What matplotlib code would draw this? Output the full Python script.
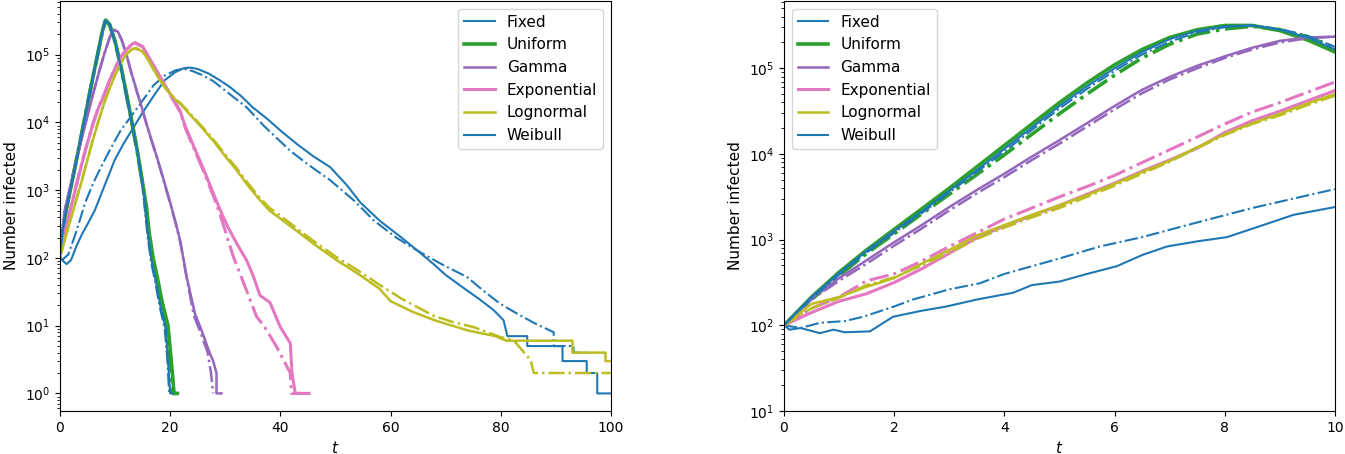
import matplotlib
matplotlib.use('Agg')
import matplotlib.pyplot as plt

# ---- left panel: whole epidemic, t in [0, 100] ----
fixed_t = [0, 0.5, 1.2, 2, 3, 4, 5, 6.3, 8, 9.9, 11.5, 13, 15, 17.2, 19, 20.9, 22.4, 23.6, 25, 27,
           29, 30.9, 33, 35, 37.5, 40, 43, 46, 49, 52, 54.5, 58, 61.8, 65, 67.8, 70, 73.9, 76, 78.7, 80.5,
           81.2, 84.8, 84.8, 91.2, 91.2, 95.6, 95.6, 97.5, 97.5, 100]
fixed_y = [100, 91, 81, 93, 150, 225, 315, 500, 1120, 2750, 4800, 7600, 14000, 26000, 42000, 55000,
           63000, 64500, 61500, 52500, 42000, 33000, 24000, 16600, 11500, 7600, 4800, 3150, 2200, 1200,
           660, 355, 205, 126, 81, 56, 33, 25, 17, 12, 7, 7, 5, 5, 3, 3, 2, 2, 1, 1]
fixed_dd_t = [0, 0.5, 1.5, 3, 4.5, 6, 7.5, 9.3, 11, 13, 15.4, 17, 19, 21, 22.5, 24, 25.8, 27.8, 30, 33.9,
              37, 41.8, 45, 49, 53.3, 57, 61, 64.8, 69, 73.9, 77, 79.9, 83, 86, 89.6, 89.6, 93.2, 93.2, 95.5]
fixed_dd_y = [100, 95, 112, 250, 630, 1260, 2240, 4270, 7600, 12600, 23400, 35500, 49000, 59000, 61700,
              57500, 50100, 40700, 29500, 16600, 8900, 3800, 2400, 1410, 710, 355, 200, 129, 83, 52,
              32, 21, 15, 11, 8, 5, 5, 4, 4]

unif_t = [0, 0.5, 1.1, 2, 3, 4, 5, 6, 7, 7.7, 8.3, 9, 10, 11, 12, 13, 14, 15, 15.7, 16.2, 16.9, 17.7,
          18.5, 19.6, 20.2, 20.7, 21.3]
unif_y = [112, 250, 500, 1120, 2820, 7080, 18600, 47900, 117500, 224000, 324000, 282000, 158000, 70800,
          28200, 10700, 3980, 1260, 560, 230, 100, 50, 23, 10, 3, 1, 1]
unif_dd_t = [0, 0.5, 1.1, 2, 3, 4, 5, 6, 7, 7.7, 8.2, 9, 10, 11, 12, 13, 14, 15, 15.6, 16.1, 16.8, 17.6,
             18.4, 19.4, 20.0, 20.5, 21.0]
unif_dd_y = [115, 260, 510, 1150, 2900, 7300, 19000, 48000, 116000, 220000, 318000, 276000, 152000,
             68000, 27000, 10200, 3800, 1200, 530, 215, 95, 46, 21, 9, 3, 1, 1]

gamma_t = [0, 0.85, 2, 3, 4, 5, 6, 7, 8, 9, 9.8, 10.5, 11.2, 12, 13, 14, 15, 16, 17, 18, 19, 20, 21,
           21.8, 23, 24.5, 25.7, 27.2, 27.8, 28.4, 28.4, 29.3]
gamma_y = [112, 500, 1260, 2820, 6030, 12600, 26300, 52500, 100000, 178000, 234000, 219000, 166000,
           105000, 52500, 28200, 15100, 7940, 4370, 2400, 1260, 660, 330, 182, 52, 15, 8.5, 3.9, 3, 2, 1, 1]
gamma_dd_t = [0, 0.85, 2, 3, 4, 5, 6, 7, 8, 9, 9.7, 10.5, 11.2, 12, 13, 14, 15, 16, 17, 18, 19, 20, 21,
              21.8, 23, 24.3, 25.5, 26.8, 27.4, 27.8]
gamma_dd_y = [115, 510, 1280, 2850, 6100, 12800, 26500, 53000, 101000, 178000, 232000, 216000, 163000,
              103000, 51500, 27500, 14700, 7700, 4250, 2330, 1220, 640, 320, 175, 50, 14, 8, 4, 2, 1]

expo_t = [0, 1, 2, 3, 4, 5, 6, 7, 8, 9, 10, 11, 12, 13, 13.6, 15, 16, 18, 20, 21.8, 22.7, 24, 26, 28,
          29, 30.5, 32.1, 33.9, 35, 36.3, 38.1, 40, 41.8, 42.1, 42.7, 43.5]
expo_y = [112, 251, 562, 1200, 2510, 5010, 9550, 16600, 25100, 41700, 63100, 91200, 117500, 141000,
          151000, 132000, 95500, 50100, 26300, 14800, 8900, 5010, 2090, 832, 525, 282, 162, 91, 56, 28,
          22, 9.5, 5.5, 2, 1, 1]
expo_dd_t = [0, 1, 2, 3, 4, 5, 6, 7, 8, 9, 10, 11, 12, 13, 13.5, 15, 16, 18, 20, 21.8, 22.7, 24, 26, 28,
             29, 31.5, 33, 35.7, 37, 39.3, 41.8, 42, 46]
expo_dd_y = [115, 260, 580, 1240, 2600, 5150, 9800, 17000, 25700, 42500, 64000, 92000, 118000, 142000,
             150000, 130000, 94000, 49000, 25500, 14300, 8500, 4700, 1950, 760, 450, 102, 50, 13.5, 10,
             4.9, 2, 1, 1]

logn_t = [0, 1, 2.4, 4, 5, 6, 7, 8, 9, 10, 11, 12, 13, 13.8, 15, 16, 17, 18, 19, 20, 21, 22, 24, 26,
          28, 30, 32, 34, 36, 38, 40, 43.6, 46, 50, 54, 58, 60, 64, 68, 74, 79, 81, 93, 93, 99, 99, 100]
logn_y = [100, 200, 500, 1410, 2820, 5620, 10500, 19100, 31600, 50100, 74100, 100000, 120000, 126000,
          110000, 85100, 60300, 43700, 33100, 26300, 21400, 18200, 12000, 7940, 5130, 3160, 2000, 1200,
          759, 501, 380, 229, 162, 95, 59, 35, 23, 16, 12, 8.5, 7, 6, 6, 4, 4, 3, 3]
logn_dd_t = [0, 1, 2.4, 4, 5, 6, 7, 8, 9, 10, 11, 12, 13, 13.6, 15, 16, 17, 18, 19, 20, 21, 22, 24, 26,
             28, 30, 32, 34, 36, 38, 40, 43.6, 46, 50, 54, 58, 62, 67.8, 71, 75.1, 79.9, 82.4, 85.4, 86, 100]
logn_dd_y = [105, 210, 520, 1450, 2900, 5750, 10700, 19400, 32000, 50500, 74500, 100000, 119000, 124000,
             109000, 84000, 60000, 44000, 33500, 26800, 22000, 18800, 12500, 8300, 5400, 3350, 2150,
             1300, 820, 550, 420, 250, 178, 105, 66, 40, 25, 14, 11.5, 9.5, 6.8, 6, 3.1, 2, 2]

weib_t = [0, 0.5, 1.1, 2, 3, 4, 5, 6, 7, 7.7, 8.2, 9, 10, 11, 12, 13, 14, 15, 15.5, 16.0, 16.6, 17.4,
          18.2, 19.2, 19.6, 20.0, 20.4]
weib_y = [112, 248, 495, 1110, 2790, 7000, 18400, 47500, 117000, 222000, 322000, 278000, 154000, 68500,
          27300, 10300, 3800, 1180, 520, 210, 92, 45, 20, 9, 3, 1, 1]
weib_dd_t = [0, 0.5, 1.1, 2, 3, 4, 5, 6, 7, 7.7, 8.2, 9, 10, 11, 12, 13, 14, 15, 15.4, 15.9, 16.5, 17.3,
             18.1, 19.0, 19.5, 19.8, 20.2]
weib_dd_y = [118, 265, 520, 1170, 2950, 7400, 19200, 48500, 117000, 220000, 316000, 272000, 150000,
             66500, 26500, 10000, 3700, 1150, 500, 205, 90, 43, 19, 9, 3, 1, 1]

# ---- right panel: early growth, t in [0, 10] ----
tr = [0, 0.5, 1, 1.5, 2, 2.5, 3, 3.5, 4, 4.5, 5, 5.5, 6, 6.5, 7, 7.5, 8, 8.5, 9, 9.5, 10]

r_fixed_t = [0, 0.1, 0.3, 0.65, 0.9, 1.1, 1.56, 1.98, 2.5, 2.95, 3.5, 4.16, 4.5, 5.0, 5.5, 6.04, 6.5,
             6.95, 7.5, 8.04, 8.6, 9.25, 10]
r_fixed_y = [100, 89, 93, 81, 89, 83, 85, 126, 148, 166, 200, 240, 295, 324, 398, 490, 661, 832, 955,
             1070, 1410, 1950, 2400]
r_fixed_dd_t = [0, 0.3, 0.65, 1.1, 1.44, 2.0, 2.34, 3.0, 3.55, 4.0, 5.0, 5.73, 6.5, 7.55, 8.5, 10]
r_fixed_dd_y = [100, 93, 107, 112, 126, 166, 200, 263, 309, 398, 603, 832, 1070, 1620, 2340, 3890]

r_unif_y = [100, 214, 417, 759, 1320, 2290, 3980, 7080, 12600, 22400, 39800, 67600, 110000, 166000,
            229000, 282000, 316000, 316000, 275000, 214000, 155000]
r_unif_dd_y = [100, 200, 380, 692, 1170, 2000, 3390, 5750, 9770, 17000, 29500, 50100, 83200, 132000,
               191000, 251000, 288000, 309000, 282000, 234000, 174000]
r_gamma_y = [100, 209, 355, 575, 933, 1480, 2400, 3800, 5890, 9330, 14500, 22900, 36300, 56200, 79400,
             107000, 138000, 174000, 209000, 229000, 234000]
r_gamma_dd_y = [100, 200, 331, 525, 851, 1350, 2190, 3470, 5370, 8510, 13200, 20900, 33100, 51300,
                74100, 100000, 132000, 166000, 200000, 224000, 234000]
r_expo_y = [100, 141, 191, 234, 316, 457, 692, 1050, 1450, 1910, 2510, 3390, 4570, 6310, 8510, 11700,
            17800, 24500, 31600, 41700, 55000]
r_expo_dd_y = [100, 158, 214, 331, 398, 562, 832, 1200, 1740, 2340, 3160, 4170, 5620, 7940, 11200,
               15800, 22400, 30900, 39800, 52500, 69200]
r_logn_y = [100, 178, 214, 282, 355, 525, 759, 1120, 1480, 1950, 2510, 3310, 4470, 6170, 8320, 12000,
            17000, 22900, 29500, 38900, 50100]
r_logn_dd_y = [100, 158, 209, 295, 363, 501, 708, 1020, 1380, 1820, 2340, 3160, 4270, 5890, 8130,
               11700, 16600, 22400, 28200, 37200, 47900]
r_weib_y = [100, 214, 407, 741, 1260, 2140, 3720, 6460, 11500, 20400, 36300, 61700, 100000, 155000,
            219000, 275000, 309000, 316000, 282000, 229000, 166000]
r_weib_dd_y = [100, 204, 389, 708, 1200, 2040, 3550, 6170, 10700, 19100, 33900, 57500, 93300, 145000,
               204000, 263000, 302000, 316000, 288000, 240000, 178000]

names = ['Fixed', 'Uniform', 'Gamma', 'Exponential', 'Lognormal', 'Weibull']
colors = ['C0', 'C2', 'C4', 'C6', 'C8', 'C0']
widths = [1.5, 2.6, 1.8, 2.2, 1.8, 1.5]

left_series = [(fixed_t, fixed_y, fixed_dd_t, fixed_dd_y),
               (unif_t, unif_y, unif_dd_t, unif_dd_y),
               (gamma_t, gamma_y, gamma_dd_t, gamma_dd_y),
               (expo_t, expo_y, expo_dd_t, expo_dd_y),
               (logn_t, logn_y, logn_dd_t, logn_dd_y),
               (weib_t, weib_y, weib_dd_t, weib_dd_y)]
right_series = [(r_fixed_t, r_fixed_y, r_fixed_dd_t, r_fixed_dd_y),
                (tr, r_unif_y, tr, r_unif_dd_y),
                (tr, r_gamma_y, tr, r_gamma_dd_y),
                (tr, r_expo_y, tr, r_expo_dd_y),
                (tr, r_logn_y, tr, r_logn_dd_y),
                (tr, r_weib_y, tr, r_weib_dd_y)]


def draw(ax, series):
    for name, c, lw, (t, y, tdd, ydd) in zip(names, colors, widths, series):
        ax.plot(t, y, color=c, lw=lw, label=name)
        ax.plot(tdd, ydd, color=c, lw=lw, linestyle='-.')
    ax.set_yscale('log')
    ax.set_xlabel('$t$', fontsize=11)
    ax.set_ylabel('Number infected', fontsize=11)


fig = plt.figure(figsize=(13.45, 4.54), dpi=100)
ax1 = fig.add_axes([60 / 1345, 43 / 454, 551 / 1345, 410 / 454])
ax2 = fig.add_axes([784 / 1345, 43 / 454, 551 / 1345, 410 / 454])

draw(ax1, left_series)
ax1.set_xlim(0, 100)
ax1.set_ylim(0.55, 6.2e5)
ax1.legend(loc='upper right', fontsize=11)

draw(ax2, right_series)
ax2.set_xlim(0, 10)
ax2.set_ylim(10, 6.1e5)
ax2.legend(loc='upper left', fontsize=11)

fig.savefig('out.png', dpi=100)
